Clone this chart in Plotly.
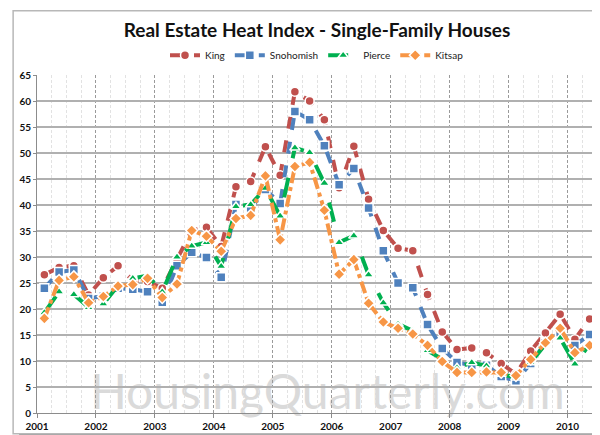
import plotly.graph_objects as go

quarters = [f"{y}Q{q}" for y in range(2001, 2011) for q in range(1, 5)][:38]
x_pos = [int(s[:4]) + (int(s[-1]) - 1) / 4 + 0.125 for s in quarters]

king = [26.6, 28.0, 28.3, 22.7, 26.0, 28.3, 25.5, 25.3, 24.0, 29.5,
        35.1, 35.7, 32.0, 43.5, 44.5, 51.2, 45.7, 61.8, 60.0, 56.4,
        43.3, 51.3, 41.1, 35.1, 31.7, 31.2, 22.8, 15.6, 12.2, 12.5,
        11.6, 9.5, 7.5, 11.9, 15.4, 19.0, 14.2, 18.1]
snohomish = [24.0, 27.1, 27.5, 22.0, 22.5, 24.0, 23.8, 23.3, 21.3, 28.3,
             30.9, 29.9, 26.1, 40.1, 39.4, 43.0, 40.3, 58.0, 56.4, 51.4,
             43.9, 47.0, 39.4, 31.2, 25.0, 24.1, 17.0, 12.4, 9.7, 9.2,
             9.2, 7.0, 6.2, 9.5, 13.5, 15.5, 13.0, 15.1]
pierce = [19.3, 23.3, 22.8, 20.3, 21.0, 24.5, 25.9, 26.4, 23.3, 30.0,
          32.1, 32.8, 28.2, 39.7, 40.1, 43.2, 37.9, 51.0, 50.1, 44.2,
          32.8, 34.1, 26.6, 21.2, 17.1, 15.8, 12.0, 10.3, 8.7, 9.7,
          9.1, 7.5, 6.8, 9.7, 13.2, 14.4, 9.4, 13.2]
kitsap = [18.2, 25.5, 26.2, 21.2, 22.4, 24.4, 24.7, 25.9, 22.2, 24.8,
          35.1, 34.0, 31.1, 37.4, 38.0, 45.6, 33.3, 47.4, 48.2, 39.0,
          26.7, 29.5, 21.1, 17.5, 16.3, 15.2, 13.0, 9.9, 7.8, 7.8,
          7.9, 7.8, 7.2, 10.3, 13.5, 16.3, 11.6, 13.0]

series = [
    ("King", king, "#C0504D", "circle", "dash"),
    ("Snohomish", snohomish, "#4F81BD", "square", "dash"),
    ("Pierce", pierce, "#00B050", "triangle-up", "longdash"),
    ("Kitsap", kitsap, "#F79646", "diamond", "dashdot"),
]

year_ticks = list(range(2001, 2011))
y_ticks = list(range(0, 70, 5))

fig = go.Figure()
for name, vals, color, sym, dash in series:
    fig.add_trace(go.Scatter(
        x=x_pos, y=vals, name=name, mode="lines+markers",
        line=dict(color=color, width=4, dash=dash),
        marker=dict(symbol=sym, size=9, color=color,
                    line=dict(color="white", width=1.5)),
    ))

W, H = 600, 435
L, R, T, B = 26, 589, 67, 409
def px(x):
    return (x - L) / (R - L)
def py(y):
    return (B - y) / (B - T)

shapes = [
    dict(type="rect", xref="paper", yref="paper", layer="below",
         x0=px(8), x1=px(600), y0=py(435), y1=py(8),
         fillcolor="#9a9a9a", line=dict(width=0)),
    dict(type="rect", xref="paper", yref="paper", layer="below",
         x0=px(2), x1=px(594), y0=py(430), y1=py(2),
         fillcolor="white", line=dict(color="#b8b8b8", width=1.5)),
    dict(type="rect", xref="paper", yref="paper", layer="below",
         x0=px(50), x1=px(586), y0=py(420), y1=py(350),
         line=dict(width=0), fillcolor="rgba(0,0,0,0)",
         label=dict(text="HousingQuarterly.com", textposition="middle center",
                    font=dict(family="Lato", size=48, color="#dadada"))),
]

fig.update_layout(
    width=W, height=H,
    margin=dict(l=L, r=W - R, t=T, b=H - B),
    paper_bgcolor="white", plot_bgcolor="rgba(0,0,0,0)",
    title=dict(text="<b>Real Estate Heat Index - Single-Family Houses</b>",
               x=0.5, xref="paper", xanchor="center", y=1 - 22 / H, yanchor="middle",
               font=dict(family="Lato", size=19, color="#111")),
    legend=dict(orientation="h", x=0.5, xanchor="center", y=py(47), yanchor="middle",
                font=dict(family="Lato", size=10, color="#222"),
                bgcolor="rgba(0,0,0,0)", itemwidth=30, tracegroupgap=0),
    showlegend=True,
    shapes=shapes,
    font=dict(family="Lato"),
)

fig.update_xaxes(
    range=[2001, 2010.5], tickvals=year_ticks,
    ticktext=[f"<b>{y}</b>" for y in year_ticks],
    tickfont=dict(size=10, color="#111"),
    showgrid=True, gridcolor="#9a9a9a", griddash="3px,2px", gridwidth=1,
    minor=dict(dtick=0.25, tick0=2001, showgrid=True, gridcolor="#e2e2e2", gridwidth=1),
    showline=True, linecolor="#8c8c8c", linewidth=1,
    ticks="outside", ticklen=4, tickcolor="#8c8c8c",
    zeroline=False, fixedrange=True,
)
fig.update_yaxes(
    range=[0, 65], tickvals=y_ticks,
    ticktext=[f"<b>{v}</b>" for v in y_ticks],
    tickfont=dict(size=10, color="#111"),
    showgrid=True, gridcolor="#b0b0b0", gridwidth=1.5,
    showline=True, linecolor="#8c8c8c", linewidth=1,
    ticks="outside", ticklen=3, tickcolor="#8c8c8c",
    zeroline=False, fixedrange=True,
)

fig.write_html("out.html")
